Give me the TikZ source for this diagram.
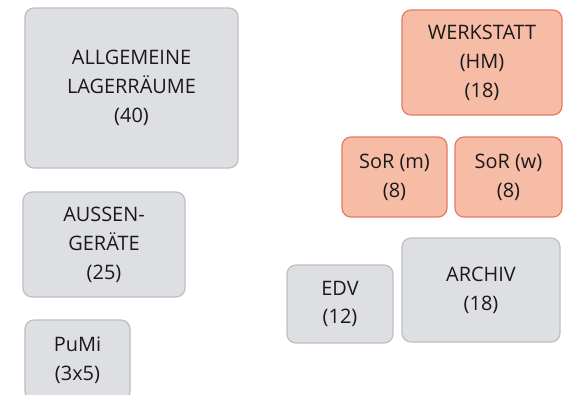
\documentclass[tikz,border=0pt]{standalone}
\usepackage{fontspec}
\setmainfont{Open Sans}
\usepackage{tikz}
\usetikzlibrary{positioning}
\definecolor{boxgray}{RGB}{222, 223, 226}
\definecolor{linegray}{RGB}{190, 191, 195}
\definecolor{boxred}{RGB}{247, 188, 166}
\definecolor{linered}{RGB}{228, 122, 104}

\begin{document}
\begin{tikzpicture}[
    x=1bp, y=-1bp,
    % --- stili per i riquadri ---
    room/.style={rounded corners=9bp, line width=1.2bp, align=center, inner sep=0,
        font=\fontsize{20}{29}\selectfont, text=black!90},
    grayroom/.style={room, draw=linegray, fill=boxgray},
    redroom/.style={room, draw=linered, fill=boxred}
]

% 1. area della pagina
\clip (0,0) rectangle (567,394);
\fill[white] (0,0) rectangle (567,394);

% 2. riquadri a sinistra
\node (lager) [grayroom, minimum width=213bp, minimum height=160bp] at (131.5,88)
    {ALLGEMEINE\\LAGERRÄUME\\(40)};
\node (aussen) [grayroom, minimum width=162bp, minimum height=105bp] at (104,244.5)
    {AUSSEN-\\GERÄTE\\(25)};
\node (pumi) [grayroom, minimum width=105bp, minimum height=80bp] at (77.5,360)
    {PuMi\\(3x5)};

% 3. riquadri rossi in alto a destra
\node (werkstatt) [redroom, minimum width=160bp, minimum height=105bp] at (482,62.5)
    {WERKSTATT\\(HM)\\(18)};
\node (sorm) [redroom, minimum width=105bp, minimum height=80bp] at (394.5,177)
    {SoR (m)\\(8)};
\node (sorw) [redroom, minimum width=107bp, minimum height=80bp] at (508.5,177)
    {SoR (w)\\(8)};

% 4. riquadri in basso a destra
\node (edv) [grayroom, minimum width=106bp, minimum height=78bp] at (340,304)
    {EDV\\(12)};
\node (archiv) [grayroom, minimum width=158bp, minimum height=104bp] at (481,290)
    {ARCHIV\\(18)};
\end{tikzpicture}
\end{document}
